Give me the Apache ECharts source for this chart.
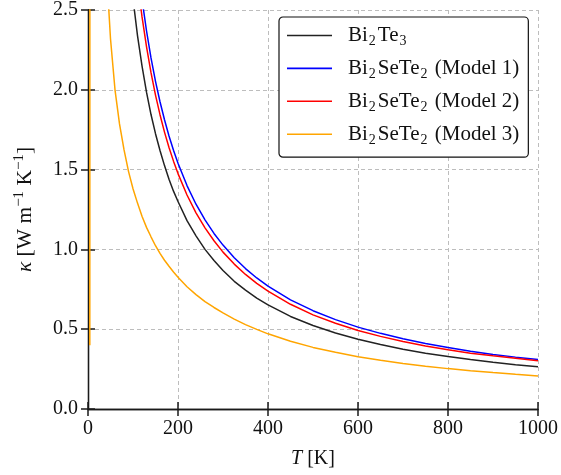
<!DOCTYPE html>
<html>
<head>
<meta charset="utf-8">
<script src="https://cdn.jsdelivr.net/npm/echarts@6/dist/echarts.min.js"></script>
<style>html,body{margin:0;padding:0;background:#fff}#c{width:561px;height:475px}</style>
</head>
<body>
<div id="c"></div>
<script>
// Temperatures (K) and thermal conductivity values (W m^-1 K^-1)
const tempBi2Te3 = [90, 100, 110, 120, 130, 140, 150, 160, 170, 180, 190, 200, 220, 240, 260, 280, 300, 325, 350, 375, 400, 450, 500, 550, 600, 650, 700, 750, 800, 850, 900, 950, 1000];
const kappaBi2Te3 = [2.87, 2.57, 2.34, 2.15, 1.985, 1.845, 1.725, 1.62, 1.525, 1.44, 1.365, 1.30, 1.18, 1.085, 1.0, 0.93, 0.868, 0.80, 0.745, 0.695, 0.652, 0.58, 0.523, 0.476, 0.437, 0.404, 0.375, 0.35, 0.329, 0.31, 0.293, 0.278, 0.264];

const tempModel1 = [110, 120, 130, 140, 150, 160, 170, 180, 190, 200, 220, 240, 260, 280, 300, 325, 350, 375, 400, 450, 500, 550, 600, 650, 700, 750, 800, 850, 900, 950, 1000];
const kappaModel1 = [2.80, 2.567, 2.37, 2.20, 2.053, 1.925, 1.812, 1.711, 1.621, 1.54, 1.40, 1.283, 1.185, 1.10, 1.027, 0.948, 0.88, 0.821, 0.77, 0.684, 0.616, 0.56, 0.513, 0.474, 0.44, 0.411, 0.385, 0.362, 0.342, 0.325, 0.31];

const tempModel2 = [100, 110, 120, 130, 140, 150, 160, 170, 180, 190, 200, 220, 240, 260, 280, 300, 325, 350, 375, 400, 450, 500, 550, 600, 650, 700, 750, 800, 850, 900, 950, 1000];
const kappaModel2 = [2.95, 2.68, 2.458, 2.27, 2.107, 1.967, 1.844, 1.735, 1.639, 1.553, 1.475, 1.341, 1.229, 1.135, 1.054, 0.983, 0.908, 0.843, 0.787, 0.738, 0.656, 0.59, 0.537, 0.492, 0.455, 0.423, 0.395, 0.371, 0.35, 0.333, 0.318, 0.303];

const tempModel3 = [4, 4.5, 40, 50, 60, 70, 80, 90, 100, 110, 120, 130, 140, 150, 160, 170, 180, 190, 200, 220, 240, 260, 280, 300, 325, 350, 375, 400, 450, 500, 550, 600, 650, 700, 750, 800, 850, 900, 950, 1000];
const kappaModel3 = [0.40, 8.0, 2.80, 2.32, 2.0, 1.786, 1.625, 1.489, 1.38, 1.29, 1.208, 1.138, 1.079, 1.023, 0.975, 0.932, 0.894, 0.858, 0.825, 0.766, 0.717, 0.673, 0.636, 0.602, 0.563, 0.529, 0.499, 0.471, 0.424, 0.386, 0.355, 0.3275, 0.305, 0.285, 0.268, 0.253, 0.24, 0.228, 0.217, 0.207];

const seriesNames = ['Bi2Te3', 'Bi2SeTe2 (Model 1)', 'Bi2SeTe2 (Model 2)', 'Bi2SeTe2 (Model 3)'];
const legendLabels = {
  'Bi2Te3': '{n|Bi}{s|2}{n|Te}{s|3}',
  'Bi2SeTe2 (Model 1)': '{n|Bi}{s|2}{n|SeTe}{s|2}{n| (Model 1)}',
  'Bi2SeTe2 (Model 2)': '{n|Bi}{s|2}{n|SeTe}{s|2}{n| (Model 2)}',
  'Bi2SeTe2 (Model 3)': '{n|Bi}{s|2}{n|SeTe}{s|2}{n| (Model 3)}'
};
const xTicks = [0, 200, 400, 600, 800, 1000];
const yTicks = [0.0, 0.5, 1.0, 1.5, 2.0, 2.5];

const FONT = '"Liberation Serif", "DejaVu Serif", serif';
const colors = ['#222222', '#0000ff', '#ff0000', '#ffa500'];

function zip(t, k) { return t.map((v, i) => [v, k[i]]); }
const datasets = [zip(tempBi2Te3, kappaBi2Te3), zip(tempModel1, kappaModel1), zip(tempModel2, kappaModel2), zip(tempModel3, kappaModel3)];

const chart = echarts.init(document.getElementById('c'), null, {renderer: 'canvas'});
const axisLine = {show: true, lineStyle: {color: '#1a1a1a', width: 1.3}};
const tick = {show: true, inside: true, length: 7, lineStyle: {color: '#1a1a1a', width: 1.5}};
const split = {show: true, lineStyle: {color: '#bdbdbd', width: 1, type: [4, 3]}};

chart.setOption({
  animation: false,
  backgroundColor: '#fff',
  grid: {left: 88, right: 21, top: 8, bottom: 66, containLabel: false},
  xAxis: [{
    type: 'value', min: xTicks[0], max: xTicks[xTicks.length - 1], interval: 200,
    axisLine: axisLine, axisTick: tick, splitLine: split,
    axisLabel: {margin: 10, color: '#111', fontFamily: FONT, fontSize: 20, formatter: v => String(v)},
    name: '{i|T} [K]', nameLocation: 'middle', nameGap: 40,
    nameTextStyle: {color: '#111', fontFamily: FONT, fontSize: 20,
      rich: {i: {fontStyle: 'italic', fontFamily: FONT, fontSize: 20, color: '#111'}}}
  }, {
    type: 'value', position: 'top', min: xTicks[0], max: xTicks[xTicks.length - 1], interval: 200,
    axisLine: axisLine, axisTick: tick, splitLine: {show: false}, axisLabel: {show: false}
  }],
  yAxis: [{
    type: 'value', min: yTicks[0], max: yTicks[yTicks.length - 1], interval: 0.5,
    axisLine: axisLine, axisTick: tick, splitLine: split,
    axisLabel: {margin: 10, color: '#111', fontFamily: FONT, fontSize: 20, formatter: v => v.toFixed(1)},
    name: '{i|κ}{n| [W m}{sup|−1}{n| K}{sup|−1}{n|]}', nameLocation: 'middle', nameGap: 50, nameRotate: 90,
    nameTextStyle: {color: '#111', fontFamily: FONT, fontSize: 21.5,
      rich: {
        i: {fontStyle: 'italic', fontFamily: FONT, fontSize: 21.5, color: '#111', lineHeight: 26},
        n: {fontFamily: FONT, fontSize: 21.5, color: '#111', lineHeight: 26},
        sup: {fontFamily: FONT, fontSize: 15, color: '#111', lineHeight: 14, verticalAlign: 'top'}
      }}
  }, {
    type: 'value', position: 'right', min: yTicks[0], max: yTicks[yTicks.length - 1], interval: 0.5,
    axisLine: axisLine, axisTick: tick, splitLine: {show: false}, axisLabel: {show: false}
  }],
  legend: {
    orient: 'vertical', left: 279, top: 17,
    padding: [8, 9, 10, 8], itemGap: 9.4, itemWidth: 45, itemHeight: 1.6, icon: 'rect',
    backgroundColor: '#fff', borderColor: '#111', borderWidth: 1.2, borderRadius: 4,
    data: seriesNames,
    formatter: name => legendLabels[name],
    textStyle: {
      padding: [0, 0, 0, 11],
      rich: {
        n: {fontFamily: FONT, fontSize: 21, color: '#111', lineHeight: 26},
        s: {fontFamily: FONT, fontSize: 14, color: '#111', lineHeight: 6, verticalAlign: 'bottom', padding: [0, 2, 0, 1]}
      }
    }
  },
  series: datasets.map((d, i) => ({
    name: seriesNames[i], type: 'line', data: d, symbol: 'none', showSymbol: false,
    smooth: false, clip: true,
    lineStyle: {color: colors[i], width: 1.5}, itemStyle: {color: colors[i]}
  }))
});
</script>
</body>
</html>
